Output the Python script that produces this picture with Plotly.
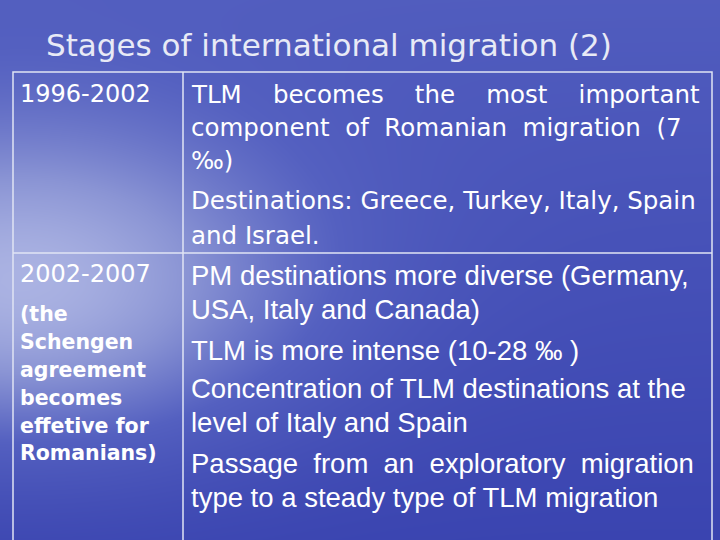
import numpy as np
import plotly.graph_objects as go

title = "Stages of international migration (2)"

periods = ["1996-2002", "2002-2007"]
note_lines = ["(the", "Schengen", "agreement", "becomes", "effetive for", "Romanians)"]

row1_lines = ["TLM\u00a0\u00a0\u00a0\u00a0becomes\u00a0\u00a0\u00a0\u00a0the\u00a0\u00a0\u00a0\u00a0most\u00a0\u00a0\u00a0\u00a0important",
              "component\u00a0\u00a0of\u00a0\u00a0Romanian\u00a0\u00a0migration\u00a0\u00a0(7",
              "‰)",
              "Destinations: Greece, Turkey, Italy, Spain",
              "and Israel."]
row1_y = [94, 127, 160, 200, 235]

row2_lines = ["PM destinations more diverse (Germany,",
              "USA, Italy and Canada)",
              "TLM is more intense (10-28 ‰ )",
              "Concentration of TLM destinations at the",
              "level of Italy and Spain",
              "Passage\u00a0 from\u00a0 an\u00a0 exploratory\u00a0 migration",
              "type to a steady type of TLM migration"]
row2_y = [275, 309, 350, 388, 422, 463, 497]
note_y = [314, 342, 370, 398, 426, 453]

# background gradient
gx = np.linspace(0, 720, 90)
gy = np.linspace(0, 540, 68)
X, Y = np.meshgrid(gx, gy)
z = np.exp(-((X - 20) / 280) ** 2 - ((Y - 290) / 160) ** 2) * 0.6 + 0.25 * (1 - Y / 540)

fig = go.Figure(go.Heatmap(x=gx, y=gy, z=z, showscale=False, hoverinfo="skip", zsmooth="best",
                           colorscale=[[0, "#3a44b0"], [0.4, "#5460c0"], [0.75, "#8a94d4"], [1, "#aab2e2"]]))

ann = [dict(x=44, y=45, text=title, xanchor="left",
            font=dict(family="DejaVu Sans", size=31, color="#e8eaf6"))]
ann.append(dict(x=18, y=94, text=periods[0], xanchor="left",
                font=dict(family="DejaVu Sans", size=24, color="white")))
ann.append(dict(x=18, y=274, text=periods[1], xanchor="left",
                font=dict(family="DejaVu Sans", size=24, color="white")))
for t, yy in zip(note_lines, note_y):
    ann.append(dict(x=18, y=yy, text="<b>" + t + "</b>", xanchor="left",
                    font=dict(family="DejaVu Sans", size=20.5, color="white")))
for t, yy in zip(row1_lines, row1_y):
    ann.append(dict(x=189, y=yy, text=t, xanchor="left",
                    font=dict(family="DejaVu Sans", size=24.5, color="white")))
for t, yy in zip(row2_lines, row2_y):
    ann.append(dict(x=189, y=yy, text=t, xanchor="left",
                    font=dict(family="Liberation Sans", size=27.5, color="white")))
for a in ann:
    a.update(xref="x", yref="y", showarrow=False, yanchor="middle")

line = dict(color="#e0e4f4", width=1.5)
shapes = [dict(type="rect", x0=13, x1=712, y0=72, y1=560, line=line),
          dict(type="line", x0=183, x1=183, y0=72, y1=560, line=line),
          dict(type="line", x0=13, x1=712, y0=253, y1=253, line=line)]
for s in shapes:
    s.update(xref="x", yref="y")

fig.update_layout(width=720, height=540, margin=dict(l=0, r=0, t=0, b=0),
                  annotations=ann, shapes=shapes,
                  xaxis=dict(range=[0, 720], visible=False),
                  yaxis=dict(range=[540, 0], visible=False),
                  plot_bgcolor="#3a44b0", paper_bgcolor="#3a44b0")
fig.write_html("out.html", config={"displayModeBar": False},
               post_script="document.body.style.margin='0';")
